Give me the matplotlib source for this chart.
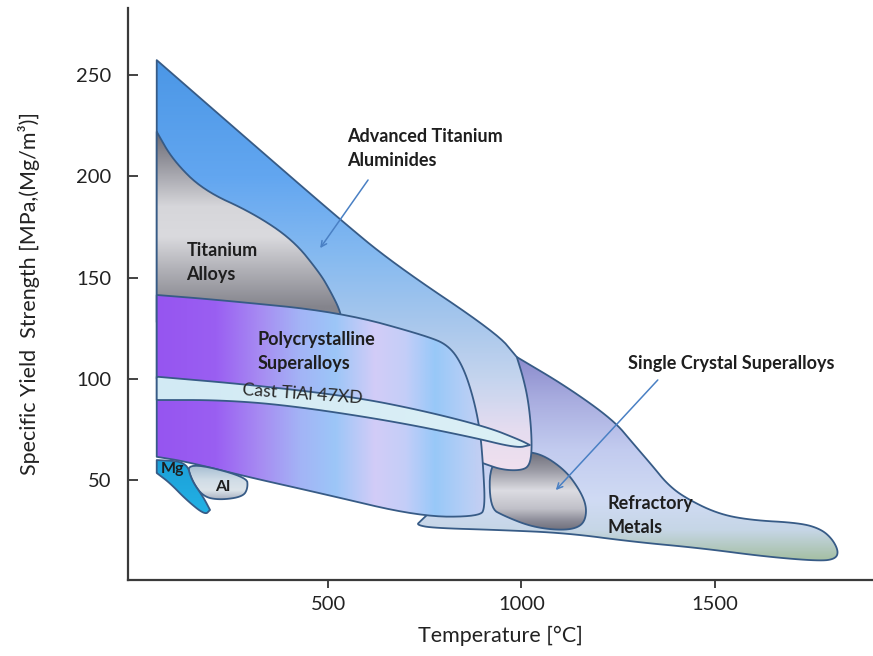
import numpy as np
import matplotlib
matplotlib.use("Agg")
import matplotlib.pyplot as plt
from matplotlib.patches import Polygon
from matplotlib.colors import LinearSegmentedColormap, Normalize

plt.rcParams["font.family"] = ["Lato", "DejaVu Sans"]

# Material property envelopes: temperature [°C] vs specific yield strength
ata_t = [56, 289, 522, 667, 936, 988, 1004, 1017, 1025, 1027, 1020, 1000, 960, 918, 600, 56]
ata_s = [257.2, 218.5, 180, 157.1, 122.6, 110.8, 101, 90, 76.4, 64, 57, 55, 55, 57, 80, 100]

ti_t = [56, 98, 176, 305, 409, 478, 504, 530, 535, 56]
ti_s = [221.9, 207.9, 193.1, 181.8, 168.5, 152.2, 143.8, 134, 128, 128]

poly_t = [56, 220, 530, 763, 815, 849, 875, 893, 901, 906, 893, 737, 478, 289, 133, 56]
poly_s = [141.4, 138.9, 133, 120.8, 115.9, 106, 91.2, 74.8, 56.7, 37, 32.1, 32.1, 43.7, 51.8, 59.2, 61.6]

cast_t = [56, 305, 563, 737, 910, 996, 1022, 988, 867, 651, 392, 220, 56]
cast_s = [101.1, 97, 91.2, 84.7, 76.4, 69.9, 67.4, 65.9, 71.5, 79.7, 87.1, 89.6, 89.6]

mg_t = [56, 133, 146, 176, 194, 181, 133, 90, 56]
mg_s = [60, 59.2, 50.1, 41.9, 35.4, 32.9, 40.3, 48.7, 53.6]

al_t = [133, 289, 292, 279, 220, 176, 146]
al_s = [59.2, 51.8, 46.2, 41.9, 40.3, 41.9, 50.1]

sc_t = [918, 990, 1048, 1113, 1151, 1169, 1164, 1138, 1087, 1022, 957, 918]
sc_s = [60, 64, 63.5, 55.1, 45.2, 37, 29.4, 26, 25.5, 27.4, 32.3, 36.3]

refr_t = [988, 1117, 1238, 1289, 1341, 1376, 1419, 1505, 1591, 1721, 1775, 1805, 1821,
          1812, 1772, 1635, 1462, 1289, 1117, 944, 771, 729, 737, 850, 940]
refr_s = [110.8, 96.2, 79.7, 68.2, 56.7, 48.5, 41.9, 33.7, 30.4, 29, 26, 21, 14.8,
          11.2, 10.2, 12.3, 16.6, 19.7, 24, 25.5, 26.5, 28, 29.6, 50, 90]

x_ticks = [500, 1000, 1500]
y_ticks = [50, 100, 150, 200, 250]

# colour ramps (value, colour)
ata_cols = [(257, "#4b97e6"), (200, "#62a6f0"), (160, "#86baf0"), (125, "#aac8ec"),
            (100, "#c4d4ee"), (75, "#e4dcf0"), (55, "#f0e0ee")]
ti_cols = [(222, "#6a6a74"), (205, "#9a9aa2"), (185, "#d6d6da"), (170, "#dadade"),
           (155, "#b4b4ba"), (135, "#84848c")]
poly_cols = [(56, "#9655f0"), (207, "#9a5ff2"), (323, "#a78cf2"), (427, "#a3b4f6"),
             (517, "#9cc6f8"), (621, "#d2ccf7"), (699, "#c4cef8"), (777, "#98c8f8"),
             (854, "#b4cef6"), (906, "#c6cef2")]
refr_cols = [(111, "#8a8acc"), (90, "#a8acdf"), (65, "#c2cbef"), (40, "#d0dbf4"),
             (25, "#c6d6e6"), (11, "#a6c0a6")]
sc_cols = [(63.5, "#70707c"), (55, "#9a9aa4"), (45, "#dcdce2"), (36, "#c0c0c8"),
           (30, "#8a8a96"), (25.5, "#6e6e7a")]
al_cols = [(59, "#98b4cc"), (50, "#d0dce6"), (45, "#dce4ea"), (40, "#a4acbc")]
mg_cols = [(60, "#1c9fd8"), (35, "#22b0e4")]
cast_cols = [(56, "#d2eaf4"), (1022, "#dcf0f6")]

EDGE = "#375b86"


def smooth(t, s, sharp=(), n=3):
    # Chaikin corner cutting, sharp vertices doubled so they stay put
    pts = []
    for i, p in enumerate(zip(t, s)):
        pts += [p, p] if i in sharp else [p]
    P = np.array(pts, float)
    for _ in range(n):
        Q = np.roll(P, -1, axis=0)
        new = np.empty((2 * len(P), 2))
        new[0::2] = 0.75 * P + 0.25 * Q
        new[1::2] = 0.25 * P + 0.75 * Q
        P = new
    return P


def region(ax, t, s, cols, axis="y", sharp=(), z=1):
    pts = smooth(t, s, sharp)
    patch = Polygon(pts, closed=True, facecolor="none", edgecolor=EDGE,
                    lw=1.3, zorder=z + 0.5, joinstyle="round")
    ax.add_patch(patch)
    vals = [v for v, _ in cols]
    lo, hi = min(vals), max(vals)
    stops = sorted(((v - lo) / (hi - lo), c) for v, c in cols)
    cmap = LinearSegmentedColormap.from_list("ramp", stops)
    x0, y0 = pts.min(axis=0)
    x1, y1 = pts.max(axis=0)
    if axis == "y":
        grid = np.linspace(y0, y1, 400).reshape(-1, 1)
    else:
        grid = np.linspace(x0, x1, 400).reshape(1, -1)
    im = ax.imshow(grid, extent=(x0, x1, y0, y1), origin="lower", aspect="auto",
                   cmap=cmap, norm=Normalize(lo, hi), interpolation="bilinear", zorder=z)
    im.set_clip_path(patch)


fig = plt.figure(figsize=(8.73, 6.56), dpi=100)
ax = fig.add_axes([0.1466, 0.1163, 0.8534, 0.8715])

region(ax, refr_t, refr_s, refr_cols, sharp=(0,), z=1)
region(ax, sc_t, sc_s, sc_cols, z=2)
region(ax, ata_t, ata_s, ata_cols, sharp=(0, 5, 15), z=3)
region(ax, ti_t, ti_s, ti_cols, sharp=(0, 8, 9), z=4)
region(ax, poly_t, poly_s, poly_cols, axis="x", sharp=(0, 15), z=5)
region(ax, cast_t, cast_s, cast_cols, axis="x", sharp=(0, 6, 12), z=6)
region(ax, al_t, al_s, al_cols, z=7)
region(ax, mg_t, mg_s, mg_cols, sharp=(0, 4, 8), z=8)

# labels inside the chart
lab = dict(fontsize=13, fontweight="bold", color="#1e1e1e", zorder=20)
ax.text(549, 213.6, "Advanced Titanium\nAluminides", va="center", ha="left", linespacing=1.5, **lab)
ax.text(133, 157.6, "Titanium\nAlloys", va="center", ha="left", linespacing=1.5, **lab)
ax.text(318, 113.5, "Polycrystalline\nSuperalloys", va="center", ha="left", linespacing=1.5, **lab)
ax.text(1276, 107.8, "Single Crystal Superalloys", va="center", ha="left", **lab)
ax.text(1224, 32.6, "Refractory\nMetals", va="center", ha="left", linespacing=1.5, **lab)
ax.text(67, 55.6, "Mg", va="center", ha="left", fontsize=11.5, fontweight="bold",
        color="#1e1e1e", zorder=20)
ax.text(207, 46.7, "Al", va="center", ha="left", fontsize=11.5, fontweight="bold",
        color="#1e1e1e", zorder=20)
ax.text(432, 92.3, "Cast TiAl 47XD", va="center", ha="center", fontsize=12.8,
        color="#2a2a2a", rotation=-4, zorder=20)

arrow = dict(arrowstyle="->", color="#4a80c4", lw=1.1, shrinkA=0, shrinkB=0)
ax.annotate("", xy=(479, 164.5), xytext=(603, 198.1), arrowprops=arrow, zorder=21)
ax.annotate("", xy=(1089, 45.2), xytext=(1353, 99.5), arrowprops=arrow, zorder=21)

ax.set_xlim(-18.4, 1910)
ax.set_ylim(1.0, 282.9)
ax.set_xticks(x_ticks)
ax.set_yticks(y_ticks)
ax.tick_params(axis="x", direction="out", length=6, width=1.2, pad=6,
               labelsize=14.5, colors="#222222")
ax.tick_params(axis="y", direction="in", length=7, width=1.2, pad=12,
               labelsize=14.5, colors="#222222")
for side in ("top", "right"):
    ax.spines[side].set_visible(False)
for side in ("left", "bottom"):
    ax.spines[side].set_linewidth(1.6)
    ax.spines[side].set_color("#3a3a3a")

ax.set_xlabel("Temperature [°C]", fontsize=15.5, color="#222222", labelpad=9)
ax.set_ylabel("Specific Yield  Strength [MPa,(Mg/m³)]", fontsize=15.5, color="#222222", labelpad=26)

fig.savefig("out.png", dpi=100)
